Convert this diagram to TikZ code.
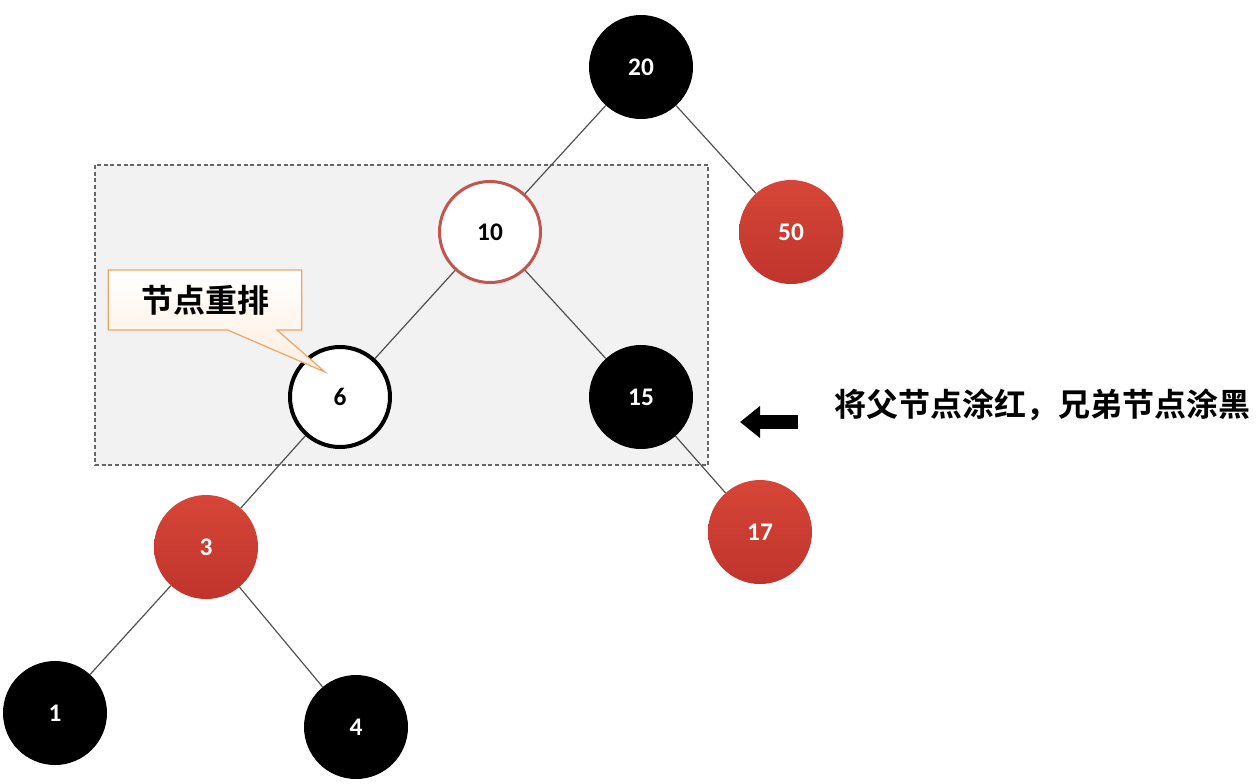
\documentclass[tikz,border=0pt]{standalone}
\usepackage{fontspec}
\setmainfont{Carlito}
\newfontfamily\cjk{Noto Sans CJK SC}[BoldFont={* Bold}]
\usepackage{tikz}
\usetikzlibrary{shapes.callouts}
\usetikzlibrary{arrows.meta}
\usepackage{xcolor}
\definecolor{rbred}{RGB}{214,70,56}
\definecolor{rbdark}{RGB}{192,52,44}
\definecolor{rbring}{RGB}{196,84,78}
\definecolor{rbedge}{RGB}{80,80,80}
\definecolor{tagline}{RGB}{240,165,100}
\definecolor{tagfill}{RGB}{255,238,222}

\begin{document}
\begin{tikzpicture}[x=0.75pt, y=-0.75pt,
    numfont/.style={font=\bfseries\fontsize{19}{19}\selectfont},
    blacknode/.style={circle, inner sep=0pt, minimum size=78pt, fill=black, text=white, numfont},
    rednode/.style={circle, inner sep=0pt, minimum size=78pt, top color=rbred, bottom color=rbdark, text=white, numfont},
    ringnode/.style={circle, inner sep=0pt, fill=white, text=black, numfont},
    edge/.style={rbedge, line width=0.9pt},
    regionbox/.style={densely dashed, draw=gray!80!black, fill=gray!10, line width=0.8pt},
    tagbox/.style={rectangle callout, draw=tagline, line width=0.9pt, top color=white, bottom color=tagfill,
        minimum width=145pt, minimum height=45pt, font=\cjk\bfseries\fontsize{24}{24}\selectfont}]
    \useasboundingbox (0,0) rectangle (1260,783);

    % Region being rebalanced
    \draw[regionbox] (95,165) rectangle (708,465);

    % Tree nodes
    \node[blacknode] (n20) at (641,67) {20};
    \node[ringnode, draw=rbring, line width=2.25pt, minimum size=75.75pt] (n10) at (490,232) {10};
    \node[rednode] (n50) at (791,232) {50};
    \node[ringnode, draw=black, line width=3pt, minimum size=75pt] (n6) at (340,397) {6};
    \node[blacknode] (n15) at (641,397) {15};
    \node[rednode] (n3) at (206,547) {3};
    \node[rednode] (n17) at (760,532) {17};
    \node[blacknode] (n1) at (55,713) {1};
    \node[blacknode] (n4) at (356,727) {4};

    % Links
    \draw[edge] (n20) -- (n10);
    \draw[edge] (n20) -- (n50);
    \draw[edge] (n10) -- (n6);
    \draw[edge] (n10) -- (n15);
    \draw[edge] (n15) -- (n17);
    \draw[edge] (n6) -- (n3);
    \draw[edge] (n3) -- (n1);
    \draw[edge] (n3) -- (n4);

    % Callout
    \node[tagbox, callout absolute pointer={(325,372)}, callout pointer width=37pt] (tag) at (205,300) {节点重排};

    % Arrow and note
    \coordinate (arw0) at (798,422);
    \coordinate (arw1) at (740,422);
    \draw[line width=10.5pt, -{Triangle[length=15pt, width=23pt]}] (arw0) -- (arw1);
    \node[anchor=west, font=\cjk\bfseries\fontsize{24}{24}\selectfont] (note) at (830,405) {将父节点涂红，兄弟节点涂黑};
\end{tikzpicture}
\end{document}
